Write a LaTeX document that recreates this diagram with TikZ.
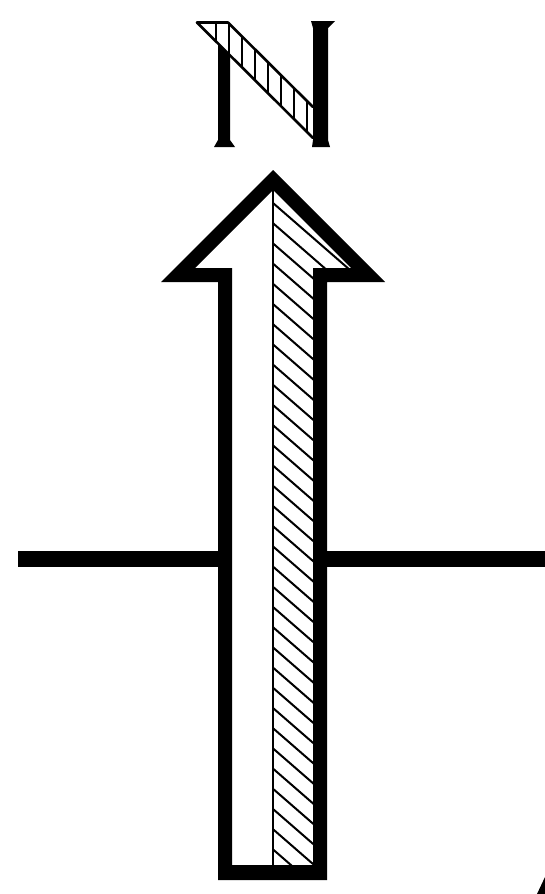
\documentclass[tikz,border=0pt]{standalone}
\begin{document}
\begin{tikzpicture}[x=1pt,y=-1pt,
  ink/.style={fill=black},
  hatchline/.style={draw=black,line width=2pt},
  edgeline/.style={draw=black,line width=2.6pt,line cap=round}]
\useasboundingbox (0,0) rectangle (545,894);
\fill[white] (0,0) rectangle (545,894);

% east-west line
\fill[ink] (18,551) rectangle (219,567);
\fill[ink] (326,551) rectangle (545,567);

% arrow outline (outer and inner contour)
\fill[ink,even odd rule]
  (273,170) -- (385,282) -- (327,282) -- (327,880) -- (218,880) -- (218,282) -- (161,282) -- cycle
  (273,190) -- (351,268) -- (313,268) -- (313,865) -- (232,865) -- (232,268) -- (195,268) -- cycle;

% hatched right half of arrow
\begin{scope}
  \clip (273,190) -- (351,268) -- (313,268) -- (313,865) -- (273,865) -- cycle;
  \foreach \k in {0,...,34} {
    \pgfmathsetmacro{\yy}{203+20.2*\k}
    \draw[hatchline] (263,\yy-8.7) -- (383,\yy+95.7);
  }
\end{scope}
\draw[line width=2pt] (273,189) -- (273,866);

% letter N
\fill[ink] (218,44) -- (230,56) -- (230,140) -- (235,147) -- (214,147) -- (218,140) -- cycle;
\fill[ink] (311,21) -- (335,21) -- (328,28) -- (328,140) -- (330,147) -- (312,147) -- (313,140) -- (313,28) -- cycle;
\begin{scope}
  \clip (197,22) -- (228,22) -- (313,107) -- (313,138) -- cycle;
  \foreach \xx in {216,229,242,255,268,281,294,307} {
    \draw[hatchline] (\xx,15) -- (\xx,150);
  }
\end{scope}
\draw[edgeline] (197,22.5) -- (228,22.5);
\draw[edgeline] (197,22.5) -- (313,138);
\draw[edgeline] (228,22.5) -- (313,107);

% fragment at lower right corner
\fill[ink] (537,894) -- (545,877) -- (545,894) -- cycle;
\end{tikzpicture}
\end{document}
